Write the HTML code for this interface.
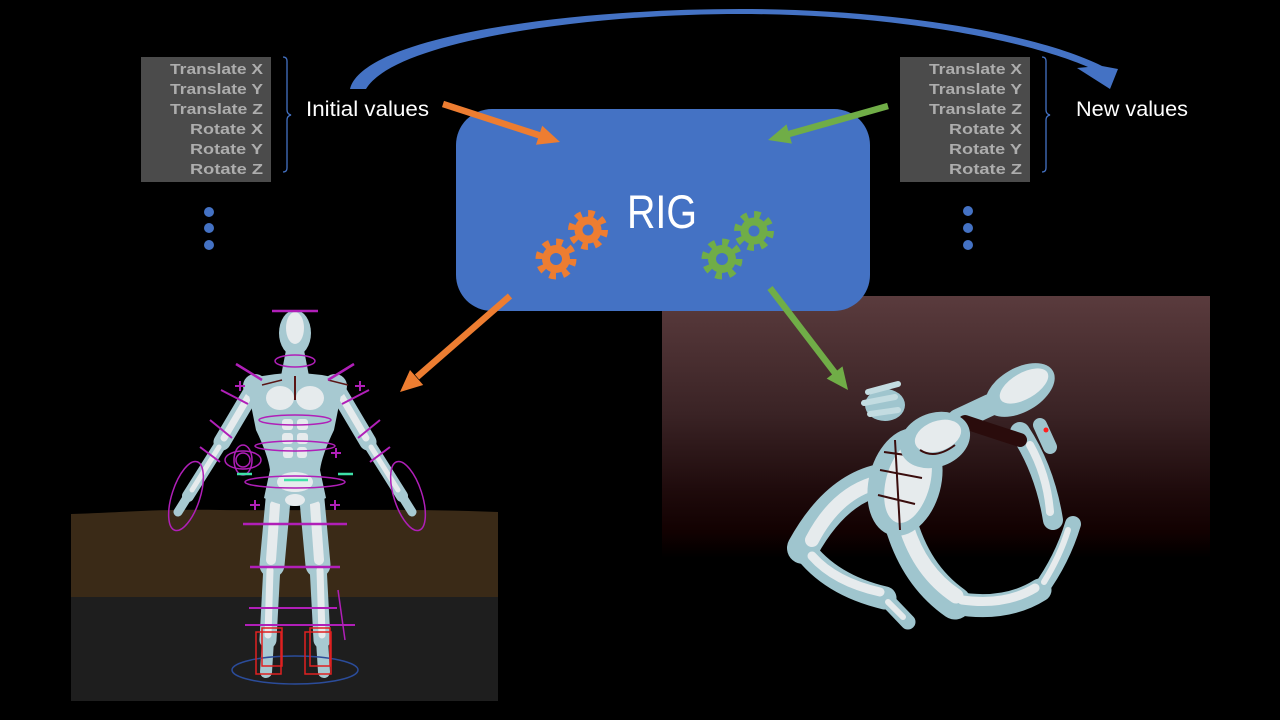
<!DOCTYPE html>
<html>
<head>
<meta charset="utf-8">
<style>
html,body{margin:0;padding:0;background:#000;}
svg{display:block;}
</style>
</head>
<body>
<svg width="1280" height="720" viewBox="0 0 1280 720" xmlns="http://www.w3.org/2000/svg">
<defs>
<linearGradient id="bg2" x1="0" y1="0" x2="0" y2="1">
<stop offset="0" stop-color="#5a3b3d"/>
<stop offset="0.45" stop-color="#3a2325"/>
<stop offset="0.75" stop-color="#1e0a0b"/>
<stop offset="0.9" stop-color="#120101"/>
<stop offset="1" stop-color="#000"/>
</linearGradient>
</defs>
<rect width="1280" height="720" fill="#000"/>

<!-- bottom-left panel -->
<path d="M71,514 C130,512 160,509 220,510 C300,511 400,508 498,512 L498,598 L71,597 Z" fill="#3a2a17"/>
<rect x="71" y="597" width="427" height="104" fill="#1e1e1e"/>

<!-- bottom-right panel -->
<rect x="662" y="296" width="548" height="262" fill="url(#bg2)"/>

<!-- standing figure -->
<g>
  <g stroke="#a7c9d1" stroke-linecap="round" fill="none">
    <path d="M254,388 L222,442" stroke-width="17"/>
    <path d="M222,442 L188,496" stroke-width="12"/>
    <path d="M188,496 L178,512" stroke-width="9"/>
    <path d="M336,388 L368,442" stroke-width="17"/>
    <path d="M368,442 L402,496" stroke-width="12"/>
    <path d="M402,496 L412,512" stroke-width="9"/>
    <path d="M278,500 L272,565" stroke-width="25"/>
    <path d="M272,565 L268,640" stroke-width="17"/>
    <path d="M268,640 L266,672" stroke-width="12"/>
    <path d="M312,500 L318,565" stroke-width="25"/>
    <path d="M318,565 L322,640" stroke-width="17"/>
    <path d="M322,640 L324,672" stroke-width="12"/>
  </g>
  <g stroke="#e6ebed" stroke-linecap="round" fill="none">
    <path d="M250,394 L224,438" stroke-width="7"/>
    <path d="M219,447 L192,490" stroke-width="5"/>
    <path d="M340,394 L366,438" stroke-width="7"/>
    <path d="M371,447 L398,490" stroke-width="5"/>
    <path d="M275,505 L271,560" stroke-width="10"/>
    <path d="M270,570 L268,635" stroke-width="7"/>
    <path d="M315,505 L319,560" stroke-width="10"/>
    <path d="M320,570 L322,635" stroke-width="7"/>
  </g>
  <path d="M286,350 L304,350 L309,376 L281,376 Z" fill="#a7c9d1"/>
  <path d="M246,380 Q295,366 344,380 L334,430 Q322,455 320,470 L326,498 Q295,514 264,498 L270,470 Q268,455 256,430 Z" fill="#a7c9d1"/>
  <circle cx="255" cy="386" r="12" fill="#a7c9d1"/>
  <circle cx="335" cy="386" r="12" fill="#a7c9d1"/>
  <ellipse cx="280" cy="398" rx="14" ry="12" fill="#e6ebed"/>
  <ellipse cx="310" cy="398" rx="14" ry="12" fill="#e6ebed"/>
  <g fill="#e6ebed">
    <rect x="282" y="419" width="11" height="11" rx="3"/>
    <rect x="297" y="419" width="11" height="11" rx="3"/>
    <rect x="282" y="433" width="11" height="11" rx="3"/>
    <rect x="297" y="433" width="11" height="11" rx="3"/>
    <rect x="283" y="447" width="10" height="11" rx="3"/>
    <rect x="297" y="447" width="10" height="11" rx="3"/>
    <ellipse cx="295" cy="482" rx="18" ry="10"/>
    <ellipse cx="295" cy="500" rx="10" ry="6"/>
  </g>
  <path d="M295,376 L295,400" stroke="#5a1515" stroke-width="2"/>
  <path d="M262,385 L282,380 M328,380 L348,385" stroke="#5a1515" stroke-width="1.5"/>
  <ellipse cx="295" cy="333" rx="16" ry="23" fill="#a7c9d1"/>
  <ellipse cx="295" cy="328" rx="9" ry="16" fill="#e6ebed"/>

  <g stroke="#b01fb8" fill="none" stroke-width="1.5">
    <path d="M272,311 L318,311" stroke-width="2.5"/>
    <ellipse cx="295" cy="361" rx="20" ry="6"/>
    <path d="M236,364 L262,380 M354,364 L328,380" stroke-width="2.5"/>
    <path d="M221,390 L248,404 M369,390 L342,404" stroke-width="2"/>
    <path d="M210,420 L232,438 M380,420 L358,438" stroke-width="2"/>
    <path d="M200,447 L220,462 M390,447 L370,462" stroke-width="2"/>
    <path d="M235,386 L245,386 M240,381 L240,391" stroke-width="2"/>
    <path d="M355,386 L365,386 M360,381 L360,391" stroke-width="2"/>
    <path d="M331,453 L341,453 M336,448 L336,458" stroke-width="2"/>
    <path d="M250,505 L260,505 M255,500 L255,510" stroke-width="2"/>
    <path d="M330,505 L340,505 M335,500 L335,510" stroke-width="2"/>
    <ellipse cx="295" cy="420" rx="36" ry="5"/>
    <ellipse cx="295" cy="446" rx="40" ry="5"/>
    <ellipse cx="295" cy="482" rx="50" ry="6"/>
    <ellipse cx="243" cy="460" rx="18" ry="9"/>
    <ellipse cx="243" cy="460" rx="9" ry="15"/>
    <circle cx="243" cy="460" r="7"/>
    <ellipse cx="186" cy="496" rx="14" ry="36" transform="rotate(18 186 496)"/>
    <ellipse cx="408" cy="496" rx="14" ry="36" transform="rotate(-18 408 496)"/>
    <path d="M243,524 L347,524" stroke-width="2.5"/>
    <path d="M250,567 L340,567" stroke-width="2.5"/>
    <path d="M249,608 L337,608" stroke-width="2"/>
    <path d="M245,625 L355,625" stroke-width="2"/>
    <path d="M338,590 L345,640" stroke-width="1.5"/>
  </g>
  <g stroke="#3ee0a8" stroke-width="2.5">
    <path d="M237,474 L252,474 M338,474 L353,474 M284,480 L308,480"/>
  </g>
  <ellipse cx="295" cy="670" rx="63" ry="14" fill="none" stroke="#2b4c9a" stroke-width="1.5"/>
  <g fill="none" stroke="#e02020" stroke-width="1.5">
    <rect x="256" y="632" width="25" height="42"/>
    <rect x="262" y="628" width="20" height="38"/>
    <rect x="305" y="632" width="26" height="42"/>
    <rect x="310" y="628" width="20" height="38"/>
  </g>
</g>

<!-- curled figure -->
<g>
  <g stroke="#9fc5ce" stroke-linecap="round" fill="none">
    <path d="M880,480 Q835,490 803,548" stroke-width="32"/>
    <path d="M803,548 Q830,585 885,598" stroke-width="23"/>
    <path d="M885,598 L908,622" stroke-width="15"/>
    <path d="M900,520 Q915,575 955,603" stroke-width="33"/>
    <path d="M955,603 Q1005,612 1040,590" stroke-width="23"/>
    <path d="M1040,590 Q1062,560 1073,524" stroke-width="16"/>
    <path d="M1020,432 Q1045,470 1053,520" stroke-width="20"/>
    <path d="M1040,425 L1050,447" stroke-width="14"/>
    <path d="M990,405 L958,420" stroke-width="22"/>
  </g>
  <path d="M965,422 Q995,432 1020,440" stroke="#2a0c0c" stroke-width="14" fill="none" stroke-linecap="round"/>
  <g stroke="#e6ebed" stroke-linecap="round" fill="none">
    <path d="M872,484 Q835,496 812,540" stroke-width="14"/>
    <path d="M812,556 Q835,582 880,592" stroke-width="9"/>
    <path d="M888,602 L903,617" stroke-width="6"/>
    <path d="M906,526 Q920,572 956,596" stroke-width="15"/>
    <path d="M962,600 Q1005,606 1035,588" stroke-width="9"/>
    <path d="M1044,582 Q1060,556 1068,530" stroke-width="6"/>
    <path d="M1030,445 Q1047,475 1050,512" stroke-width="8"/>
  </g>
  <ellipse cx="905" cy="482" rx="36" ry="55" transform="rotate(15 905 482)" fill="#9fc5ce"/>
  <ellipse cx="908" cy="482" rx="22" ry="42" transform="rotate(15 908 482)" fill="#e6ebed"/>
  <path d="M880,470 L922,478 M878,495 L915,504 M884,452 L928,458 M895,440 L900,530" stroke="#3a0d0d" stroke-width="2" fill="none"/>
  <ellipse cx="935" cy="440" rx="36" ry="27" transform="rotate(-20 935 440)" fill="#9fc5ce"/>
  <ellipse cx="938" cy="436" rx="24" ry="15" transform="rotate(-20 938 436)" fill="#e6ebed"/>
  <path d="M920,450 Q935,460 955,445" stroke="#3a0d0d" stroke-width="2" fill="none"/>
  <ellipse cx="885" cy="405" rx="20" ry="16" fill="#9fc5ce"/>
  <path d="M868,392 L898,384 M864,403 L895,397 M870,414 L898,410" stroke="#c3dce1" stroke-width="6" stroke-linecap="round"/>
  <ellipse cx="1020" cy="390" rx="38" ry="22" transform="rotate(-30 1020 390)" fill="#9fc5ce"/>
  <ellipse cx="1024" cy="386" rx="27" ry="13" transform="rotate(-30 1024 386)" fill="#e6ebed"/>
  <circle cx="1046" cy="430" r="2.5" fill="#ff2020"/>
</g>

<!-- curved blue arrow -->
<path d="M350,89 C362,38 560,9 740,9 C900,9 1040,35 1102,66 L1118,69 L1110,89 L1077,68 L1088,67 C1030,42 900,14 740,14 C590,14 395,40 366,89 Z" fill="#4472c4"/>

<!-- tables -->
<rect x="141" y="57" width="130" height="125" fill="#4b4b4b"/>
<rect x="900" y="57" width="130" height="125" fill="#4b4b4b"/>
<g font-family="Liberation Sans, sans-serif" font-size="15" font-weight="bold" fill="#adadad" text-anchor="end">
  <text x="263" y="74" textLength="93" lengthAdjust="spacingAndGlyphs">Translate X</text>
  <text x="263" y="94" textLength="93" lengthAdjust="spacingAndGlyphs">Translate Y</text>
  <text x="263" y="114" textLength="93" lengthAdjust="spacingAndGlyphs">Translate Z</text>
  <text x="263" y="134" textLength="73" lengthAdjust="spacingAndGlyphs">Rotate X</text>
  <text x="263" y="154" textLength="73" lengthAdjust="spacingAndGlyphs">Rotate Y</text>
  <text x="263" y="174" textLength="73" lengthAdjust="spacingAndGlyphs">Rotate Z</text>
  <text x="1022" y="74" textLength="93" lengthAdjust="spacingAndGlyphs">Translate X</text>
  <text x="1022" y="94" textLength="93" lengthAdjust="spacingAndGlyphs">Translate Y</text>
  <text x="1022" y="114" textLength="93" lengthAdjust="spacingAndGlyphs">Translate Z</text>
  <text x="1022" y="134" textLength="73" lengthAdjust="spacingAndGlyphs">Rotate X</text>
  <text x="1022" y="154" textLength="73" lengthAdjust="spacingAndGlyphs">Rotate Y</text>
  <text x="1022" y="174" textLength="73" lengthAdjust="spacingAndGlyphs">Rotate Z</text>
</g>

<!-- brackets -->
<g fill="none" stroke="#4472c4" stroke-width="1.3">
  <path d="M283,57 Q287,57 287,61 L287,110 Q287,114 291,115 Q287,116 287,120 L287,168 Q287,172 283,172"/>
  <path d="M1042,57 Q1046,57 1046,61 L1046,110 Q1046,114 1050,115 Q1046,116 1046,120 L1046,168 Q1046,172 1042,172"/>
</g>

<!-- labels -->
<g font-family="Liberation Sans, sans-serif" font-size="21" fill="#ffffff">
  <text x="306" y="116" textLength="123" lengthAdjust="spacingAndGlyphs">Initial values</text>
  <text x="1076" y="116" textLength="112" lengthAdjust="spacingAndGlyphs">New values</text>
</g>

<!-- dots -->
<g fill="#4472c4">
  <circle cx="209" cy="212" r="5"/>
  <circle cx="209" cy="228" r="5"/>
  <circle cx="209" cy="245" r="5"/>
  <circle cx="968" cy="211" r="5"/>
  <circle cx="968" cy="228" r="5"/>
  <circle cx="968" cy="245" r="5"/>
</g>

<!-- RIG box -->
<rect x="456" y="109" width="414" height="202" rx="36" ry="36" fill="#4472c4"/>
<text x="662" y="228" font-family="Liberation Sans, sans-serif" font-size="47" fill="#ffffff" text-anchor="middle" textLength="70" lengthAdjust="spacingAndGlyphs">RIG</text>

<!-- gears -->
<g>
  <g fill="#ed7d31" stroke="#ed7d31">
    <circle cx="556" cy="259" r="14" stroke="none"/>
    <circle cx="556" cy="259" r="17" fill="none" stroke-width="7" stroke-dasharray="6.5 6.85"/>
    <circle cx="588" cy="230" r="13.5" stroke="none"/>
    <circle cx="588" cy="230" r="16.5" fill="none" stroke-width="7" stroke-dasharray="6.3 6.66"/>
  </g>
  <g fill="#70ad47" stroke="#70ad47">
    <circle cx="722" cy="259" r="14" stroke="none"/>
    <circle cx="722" cy="259" r="17" fill="none" stroke-width="7" stroke-dasharray="6.5 6.85"/>
    <circle cx="754" cy="231" r="13.5" stroke="none"/>
    <circle cx="754" cy="231" r="16.5" fill="none" stroke-width="7" stroke-dasharray="6.3 6.66"/>
  </g>
  <g fill="#4472c4">
    <circle cx="556" cy="259" r="6"/>
    <circle cx="588" cy="230" r="5.5"/>
    <circle cx="722" cy="259" r="6"/>
    <circle cx="754" cy="231" r="5.5"/>
  </g>
</g>

<!-- straight arrows -->
<g stroke-width="6.5" fill="none">
  <line x1="443" y1="104" x2="540" y2="135.5" stroke="#ed7d31"/>
  <line x1="888" y1="106" x2="788" y2="134.3" stroke="#70ad47"/>
  <line x1="510" y1="296" x2="417" y2="377" stroke="#ed7d31"/>
  <line x1="770" y1="288" x2="835" y2="373" stroke="#70ad47"/>
</g>
<polygon points="560,142 536,144.7 542.2,125.7" fill="#ed7d31"/>
<polygon points="768,140 786.5,124.4 791.9,143.6" fill="#70ad47"/>
<polygon points="400,392 410,370 423.2,385" fill="#ed7d31"/>
<polygon points="848,390 826.7,378.6 842.5,366.4" fill="#70ad47"/>
</svg>
</body>
</html>
